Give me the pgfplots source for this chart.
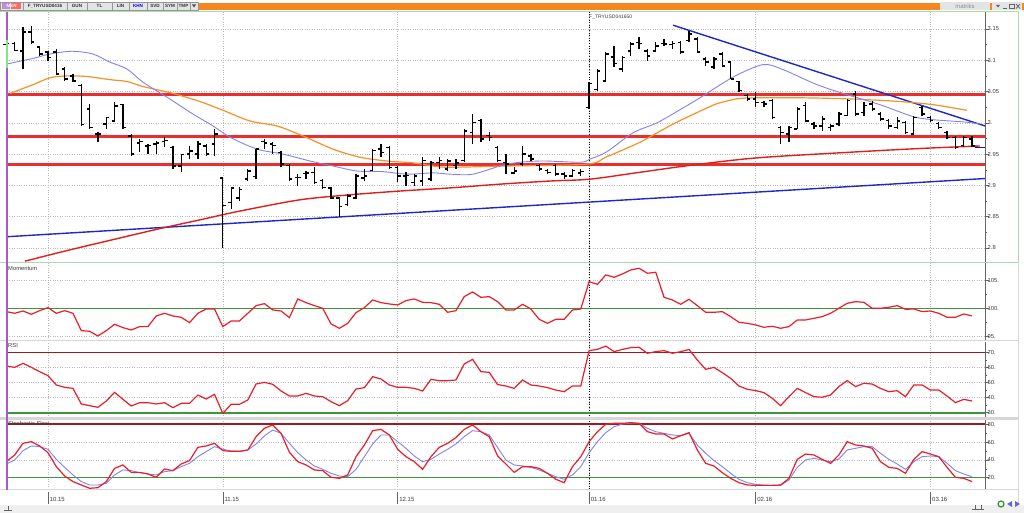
\documentclass[border=0pt]{standalone}
\usepackage{pgfplots}
\pgfplotsset{compat=1.18}
\usepackage{pgfplotstable}
\usepackage{fontspec}
\setmainfont{Liberation Sans}

\definecolor{topor}{RGB}{246,134,31}
\definecolor{tbgray}{RGB}{228,228,228}
\definecolor{tbline}{RGB}{150,150,150}
\definecolor{maone}{RGB}{130,130,240}
\definecolor{matwo}{RGB}{245,145,40}
\definecolor{mathree}{RGB}{225,30,30}
\definecolor{levelred}{RGB}{235,45,45}
\definecolor{trblue}{RGB}{30,40,200}
\definecolor{indred}{RGB}{235,30,40}
\definecolor{stblue}{RGB}{130,130,235}
\definecolor{lgreen}{RGB}{60,150,60}
\definecolor{dred}{RGB}{160,25,30}
\definecolor{gridgray}{RGB}{185,185,185}
\definecolor{axgray}{RGB}{100,100,100}
\definecolor{labgray}{RGB}{60,60,60}
\definecolor{purp}{RGB}{170,90,200}
\definecolor{palegreen}{RGB}{170,220,170}
\definecolor{sepgray}{RGB}{215,215,215}

\newcommand\tickfont{\fontsize{5.8}{6.5}\selectfont}
\newcommand\smallfont{\fontsize{5.8}{6.5}\selectfont}

\pgfdeclareplotmark{ohlcopen}{\pgfpathmoveto{\pgfqpoint{-3pt}{0pt}}\pgfpathlineto{\pgfqpoint{0pt}{0pt}}\pgfusepathqstroke}
\pgfdeclareplotmark{ohlcclose}{\pgfpathmoveto{\pgfqpoint{0pt}{0pt}}\pgfpathlineto{\pgfqpoint{3pt}{0pt}}\pgfusepathqstroke}

\pgfplotstableread{
i o h l c
-5 3.125 3.130 3.120 3.127
-4 3.127 3.129 3.115 3.116
-3 3.115 3.153 3.086 3.145
-2 3.145 3.155 3.126 3.129
-1 3.121 3.123 3.107 3.110
0 3.113 3.115 3.099 3.104
1 3.113 3.118 3.078 3.078
2 3.086 3.089 3.067 3.070
3 3.075 3.078 3.065 3.067
4 3.060 3.062 2.995 2.997
5 3.022 3.030 2.990 2.992
6 2.982 2.985 2.969 2.982
7 2.998 3.009 2.990 3.008
8 3.003 3.033 3.001 3.027
9 3.029 3.030 2.990 2.993
10 2.979 2.982 2.947 2.950
11 2.968 2.974 2.954 2.970
12 2.963 2.966 2.950 2.964
13 2.966 2.971 2.950 2.968
14 2.970 2.977 2.961 2.972
15 2.961 2.963 2.926 2.931
16 2.931 2.950 2.921 2.949
17 2.950 2.963 2.942 2.955
18 2.950 2.971 2.942 2.966
19 2.963 2.966 2.947 2.950
20 2.966 2.990 2.947 2.982
21 2.912 2.913 2.800 2.868
22 2.873 2.897 2.862 2.896
23 2.880 2.897 2.875 2.893
24 2.910 2.926 2.907 2.923
25 2.914 2.958 2.910 2.958
26 2.970 2.974 2.958 2.968
27 2.966 2.969 2.950 2.964
28 2.953 2.955 2.929 2.934
29 2.932 2.934 2.907 2.910
30 2.913 2.918 2.899 2.913
31 2.919 2.923 2.910 2.920
32 2.921 2.929 2.902 2.905
33 2.908 2.910 2.894 2.897
34 2.896 2.897 2.878 2.880
35 2.880 2.881 2.849 2.866
36 2.870 2.886 2.867 2.883
37 2.880 2.918 2.878 2.915
38 2.912 2.926 2.907 2.915
39 2.924 2.958 2.923 2.956
40 2.958 2.966 2.945 2.953
41 2.961 2.963 2.926 2.929
42 2.929 2.931 2.905 2.915
43 2.915 2.921 2.899 2.916
44 2.905 2.918 2.899 2.915
45 2.907 2.945 2.899 2.940
46 2.910 2.939 2.907 2.937
47 2.937 2.945 2.926 2.940
48 2.926 2.942 2.923 2.939
49 2.932 2.942 2.926 2.936
50 2.940 2.990 2.938 2.987
51 2.985 3.014 2.966 3.000
52 3.004 3.006 2.969 2.974
53 2.980 2.985 2.971 2.977
54 2.961 2.963 2.938 2.940
55 2.937 2.950 2.918 2.934
56 2.920 2.929 2.918 2.923
57 2.934 2.963 2.931 2.950
58 2.947 2.950 2.939 2.942
59 2.932 2.934 2.923 2.926
60 2.924 2.926 2.918 2.921
61 2.932 2.934 2.915 2.918
62 2.918 2.921 2.910 2.915
63 2.915 2.926 2.913 2.924
64 2.920 2.926 2.915 2.922
65 3.025 3.065 3.022 3.063
66 3.053 3.086 3.051 3.083
67 3.067 3.113 3.065 3.110
68 3.105 3.123 3.089 3.095
69 3.086 3.107 3.081 3.104
70 3.115 3.129 3.107 3.126
71 3.128 3.137 3.118 3.127
72 3.115 3.118 3.099 3.107
73 3.115 3.129 3.113 3.123
74 3.127 3.134 3.123 3.126
75 3.125 3.131 3.118 3.127
76 3.128 3.131 3.110 3.113
77 3.131 3.147 3.129 3.142
78 3.134 3.137 3.113 3.113
79 3.102 3.105 3.091 3.097
80 3.089 3.105 3.086 3.102
81 3.110 3.113 3.089 3.091
82 3.097 3.097 3.070 3.070
83 3.066 3.067 3.049 3.052
84 3.044 3.046 3.035 3.038
85 3.038 3.049 3.025 3.033
86 3.033 3.035 3.025 3.030
87 3.036 3.038 3.006 3.008
88 2.993 2.995 2.966 2.985
89 2.982 2.995 2.969 2.993
90 2.990 3.025 2.990 3.022
91 3.028 3.033 3.001 3.003
92 2.998 3.001 2.990 2.995
93 2.995 3.011 2.987 3.006
94 2.992 2.998 2.987 2.995
95 2.998 3.017 2.995 3.014
96 3.012 3.038 3.011 3.036
97 3.046 3.051 3.011 3.014
98 3.016 3.033 3.011 3.028
99 3.030 3.035 3.019 3.022
100 3.014 3.017 3.003 3.006
101 3.004 3.006 2.990 2.995
102 2.992 3.009 2.990 3.003
103 3.001 3.003 2.982 2.984
104 2.982 3.011 2.980 3.009
105 3.025 3.027 3.011 3.014
106 3.009 3.011 3.001 3.004
107 2.999 3.001 2.990 2.993
108 2.985 2.987 2.974 2.977
109 2.977 2.979 2.958 2.961
110 2.964 2.979 2.961 2.976
111 2.974 2.979 2.961 2.963
}\ohlc

\pgfplotstableread{
i mom rsi k d
-5 99.40 61.13 38.0 35.4
-4 99.10 60.24 45.5 39.9
-3 99.52 62.91 58.6 50.4
-2 98.92 60.24 60.5 55.6
-1 99.58 57.36 55.6 54.9
0 100.12 54.69 48.1 51.9
1 99.10 48.47 32.4 40.6
2 99.58 46.91 21.9 31.6
3 99.10 46.24 15.6 23.1
4 95.98 35.80 11.8 15.6
5 95.86 34.69 8.1 11.8
6 95.02 33.58 8.8 11.8
7 95.98 37.80 15.6 13.7
8 97.12 43.58 30.5 23.1
9 96.52 38.91 34.3 28.7
10 96.10 34.47 26.0 27.9
11 96.70 36.69 26.0 25.7
12 96.70 36.69 24.2 24.2
13 98.62 35.80 20.4 23.1
14 99.10 36.69 29.8 26.8
15 98.62 33.36 27.9 27.9
16 98.38 36.24 35.4 32.4
17 97.42 36.24 39.2 36.2
18 99.10 41.80 54.1 43.6
19 99.88 39.13 55.6 49.3
20 99.88 42.24 58.6 54.9
21 96.70 29.58 50.4 51.9
22 97.72 35.58 49.6 50.0
23 97.72 35.58 49.6 49.6
24 99.10 38.47 51.1 51.1
25 100.48 49.13 66.1 57.9
26 100.84 50.24 75.5 66.9
27 99.70 48.91 79.2 73.6
28 99.52 44.47 69.8 69.8
29 98.32 41.13 48.5 58.6
30 101.68 41.13 38.0 48.1
31 101.02 42.91 34.3 39.9
32 100.48 41.13 28.7 33.1
33 100.00 40.69 27.9 29.4
34 97.18 37.36 20.4 24.9
35 96.40 34.69 19.3 21.9
36 97.30 38.02 23.1 21.1
37 99.22 45.80 43.6 29.4
38 100.12 46.69 56.7 43.6
39 101.50 54.02 72.8 57.9
40 101.02 52.47 74.3 68.0
41 100.78 48.47 68.0 68.0
42 100.60 46.91 51.9 60.5
43 101.38 46.91 43.6 53.0
44 101.68 46.24 38.0 44.4
45 101.08 44.47 29.4 38.0
46 101.02 52.24 43.6 40.6
47 100.72 51.36 54.1 46.6
48 99.28 51.36 58.6 51.9
49 99.58 51.80 65.0 57.9
50 102.10 62.47 74.3 66.1
51 102.94 65.58 79.2 72.8
52 101.98 57.36 71.7 71.7
53 102.10 56.91 66.1 68.0
54 101.20 48.80 44.5 54.0
55 99.70 47.80 35.4 39.9
56 99.70 46.20 26.0 34.3
57 100.72 51.80 32.4 33.2
58 99.88 48.50 32.4 31.6
59 98.02 47.80 30.5 28.7
60 97.30 46.70 24.9 24.9
61 98.02 45.10 18.2 21.1
62 98.02 44.00 14.4 18.2
63 99.70 47.80 32.4 23.1
64 99.88 47.80 43.6 32.4
65 104.80 71.40 60.5 48.1
66 104.32 72.20 71.7 60.5
67 106.01 74.40 80.0 70.6
68 105.59 70.70 81.1 77.3
69 106.19 72.20 81.1 80.3
70 106.91 73.40 81.8 81.1
71 107.21 73.60 81.1 81.1
72 106.31 69.60 71.7 75.5
73 106.49 70.70 69.1 71.7
74 101.98 71.40 69.1 69.8
75 101.50 69.60 63.5 68.0
76 100.72 70.70 67.2 67.2
77 101.62 72.20 70.6 69.8
78 100.48 65.10 51.1 56.7
79 99.28 58.90 36.1 47.4
80 99.28 60.20 33.1 39.2
81 99.40 56.70 25.6 32.4
82 98.50 52.90 19.3 24.9
83 97.48 47.80 14.4 18.2
84 97.30 45.60 11.8 14.4
85 97.00 44.70 11.4 12.6
86 96.58 43.40 11.4 11.8
87 96.76 39.60 11.4 11.4
88 96.40 34.70 11.8 11.4
89 96.70 40.70 19.3 17.4
90 97.90 46.20 40.6 31.6
91 97.90 43.40 46.6 39.9
92 98.20 40.70 45.5 41.8
93 98.50 40.30 40.6 39.9
94 99.10 41.80 36.1 38.0
95 100.00 47.40 45.5 41.0
96 100.90 51.40 60.5 51.1
97 101.20 47.40 56.7 53.0
98 101.08 49.60 55.6 54.9
99 100.00 49.10 53.0 54.9
100 100.00 46.20 38.0 47.4
101 100.18 44.00 31.6 40.6
102 100.48 44.70 30.5 35.4
103 99.82 40.70 24.9 29.4
104 99.88 48.50 40.6 38.0
105 99.40 48.50 49.3 43.6
106 99.52 45.10 46.6 44.4
107 99.10 45.10 43.6 43.6
108 98.38 41.10 31.6 36.1
109 98.38 36.70 20.4 27.9
110 98.98 38.90 19.3 24.2
111 98.62 37.80 15.6 21.1
}\ind

\pgfplotstableread{
x lvla lvlb lvlc
-4.925 3.04497 2.97785 2.93311
112.553 3.04497 2.97785 2.93311
}\levels

\pgfplotsset{
  panel/.style={
    scale only axis, width=978pt,
    xmin=-4.925, xmax=112.553,
    axis line style={draw=none},
    tick align=outside,
    ytick pos=right, xtick pos=bottom,
    x tick style={draw=none},
    xtick={0,21,42,65,85,106}, xticklabels={},
    extra x ticks={65},
    extra x tick style={grid style={black, dotted, line width=0.6pt}, xticklabels={}},
    y tick style={draw=axgray, line width=0.5pt},
    major tick length=4pt, minor tick length=2pt,
    minor y tick num=1,
    yticklabel style={font=\tickfont, text=labgray, anchor=west, inner sep=0.5pt, xshift=-2pt},
    xmajorgrids, ymajorgrids,
    grid style={gridgray, dotted, line width=0.6pt},
    clip=false,
    after end axis/.code={\draw[axgray, line width=0.8pt] (rel axis cs:1,0) -- (rel axis cs:1,1);},
  },
}

\begin{document}
\begin{tikzpicture}[x=1pt,y=1pt]
\useasboundingbox (0,0) rectangle (1024,-513);
\fill[white] (0,0) rectangle (1024,-513);

% ---------- main price panel ----------
\begin{axis}[panel, at={(7pt,-262pt)}, anchor=south west, height=250pt,
  ymin=2.7776, ymax=3.1771,
  ytick={2.8,2.85,2.9,2.95,3.0,3.05,3.1,3.15},
  yticklabels={2.8,2.85,2.9,2.95,3.,3.05,3.1,3.15}]
% horizontal levels
\addplot[draw=levelred, line width=2.4pt, mark=none] table[x=x, y=lvla] {\levels};
\addplot[draw=levelred, line width=2.4pt, mark=none] table[x=x, y=lvlb] {\levels};
\addplot[draw=levelred, line width=2.4pt, mark=none] table[x=x, y=lvlc] {\levels};
% trend lines
\addplot[draw=trblue, line width=1.4pt] coordinates {(-4.925,2.818) (112.553,2.911)};
\addplot[draw=trblue, line width=1.4pt] coordinates {(75.08,3.156) (112.553,2.995)};
% long moving average
\addplot[draw=mathree, line width=1.4pt, smooth] coordinates {
(-2.76,2.779) (2.64,2.797) (8.65,2.816) (13.45,2.831) (18.26,2.845) (23.06,2.859)
(30.27,2.877) (36.28,2.885) (42.28,2.891) (48.29,2.896) (54.29,2.902) (60.30,2.907)
(65.11,2.910) (71.11,2.921) (77.12,2.932) (85.17,2.944) (96.34,2.953) (104.74,2.959) (111.95,2.963)};
% orange moving average
\addplot[draw=matwo, line width=1.2pt, smooth] coordinates {
(-4.56,3.047) (-1.80,3.061) (0.24,3.072) (2.28,3.075) (4.68,3.074) (7.45,3.069) (9.49,3.066)
(11.41,3.058) (15.02,3.047) (18.26,3.034) (20.66,3.022) (24.26,3.003) (27.51,2.995) (30.63,2.979)
(34.23,2.958) (37.48,2.945) (40.72,2.939) (43.84,2.936) (46.25,2.931) (48.29,2.929) (55.14,2.931)
(64.74,2.934) (67.15,2.946) (71.11,2.969) (75.08,2.998) (79.52,3.026) (80.72,3.032) (83.12,3.039)
(86.37,3.040) (90.33,3.040) (94.29,3.039) (98.38,3.037) (102.34,3.034) (106.31,3.029) (110.39,3.020)};
% light blue moving average
\addplot[draw=maone, line width=0.9pt, smooth] coordinates {
(-4.92,3.094) (-1.80,3.103) (0.24,3.110) (2.28,3.114) (3.48,3.114) (5.41,3.110) (7.45,3.097)
(9.49,3.086) (11.41,3.065) (14.29,3.041) (17.42,3.014) (19.82,2.995) (21.86,2.977) (25.11,2.958)
(28.23,2.950) (31.47,2.939) (34.23,2.931) (37.12,2.923) (40.24,2.922) (43.12,2.918) (46.25,2.920)
(48.29,2.918) (51.05,2.918) (55.14,2.934) (59.10,2.939) (63.90,2.937) (65.11,2.942) (67.15,2.954)
(70.27,2.984) (73.15,3.000) (75.92,3.021) (78.32,3.040) (82.28,3.073) (85.89,3.093) (88.29,3.085)
(92.37,3.061) (95.98,3.045) (99.94,3.029) (103.90,3.010) (106.31,3.005) (110.39,3.001) (111.95,2.998)};
% last price marker
\addplot[draw=trblue!70!black, line width=1pt] coordinates {(111.3,2.960) (112.553,2.960)};
% OHLC bars
\addplot[draw=none, mark=none, forget plot,
  error bars/.cd, y dir=plus, y explicit, error mark=none,
  error bar style={draw=black, line width=1.3pt, solid}]
  table[x=i, y=l, y error plus expr=\thisrow{h}-\thisrow{l}] {\ohlc};
\addplot[only marks, mark=ohlcopen, mark options={draw=black, line width=1.3pt}] table[x=i, y=o] {\ohlc};
\addplot[only marks, mark=ohlcclose, mark options={draw=black, line width=1.3pt}] table[x=i, y=c] {\ohlc};
\end{axis}

% ---------- momentum ----------
\begin{axis}[panel, at={(7pt,-340pt)}, anchor=south west, height=77pt,
  ymin=94.29, ymax=108.16,
  ytick={95,100,105}, yticklabels={95.,100.,105.}]
\addplot[draw=lgreen, line width=1.6pt] coordinates {(-4.925,100) (112.553,100)};
\addplot[draw=indred, line width=1.2pt] table[x=i, y=mom] {\ind};
\end{axis}

% ---------- RSI ----------
\begin{axis}[panel, at={(7pt,-418pt)}, anchor=south west, height=76pt,
  ymin=26.47, ymax=77.13,
  ytick={30,40,50,60,70}, yticklabels={30.,40.,50.,60.,70.}]
\addplot[draw=dred, line width=1.6pt] coordinates {(-4.925,70) (112.553,70)};
\addplot[draw=lgreen, line width=1.8pt] coordinates {(-4.925,30) (112.553,30)};
\addplot[draw=indred, line width=1.2pt] table[x=i, y=rsi] {\ind};
\end{axis}

% ---------- Stochastic ----------
\begin{axis}[panel, at={(7pt,-489pt)}, anchor=south west, height=69pt,
  ymin=7.3, ymax=84.8,
  ytick={20,40,60,80}, yticklabels={20.,40.,60.,80.}]
\addplot[draw=dred, line width=1.6pt] coordinates {(-4.925,80) (112.553,80)};
\addplot[draw=lgreen, line width=1.6pt] coordinates {(-4.925,20) (112.553,20)};
\addplot[draw=stblue, line width=0.9pt] table[x=i, y=d] {\ind};
\addplot[draw=indred, line width=1.2pt] table[x=i, y=k] {\ind};
\end{axis}

% ---------- frame and separators ----------
\draw[palegreen, line width=0.8pt] (0,-11.5) -- (1018,-11.5);
\draw[palegreen, line width=0.8pt] (0,-262) -- (1018,-262);
\draw[palegreen, line width=0.8pt] (1018,-11.5) -- (1018,-262);
\draw[sepgray, line width=0.8pt] (1018,-262) -- (1018,-505);
\draw[sepgray, line width=1pt] (0,-340.5) -- (1018,-340.5);
\fill[sepgray] (0,-417) rectangle (1018,-419.5);
\draw[sepgray, line width=0.8pt] (0,-489.5) -- (1018,-489.5);
\draw[purp, line width=1.8pt] (7,-12) -- (7,-490);
\draw[palegreen!80!green, line width=2.2pt] (7,-40) -- (7,-68);

% panel titles
\node[anchor=west, inner sep=0pt, text=labgray, font=\smallfont] at (8,-269) {Momentum};
\node[anchor=west, inner sep=0pt, text=labgray, font=\smallfont] at (8,-346) {RSI};
\node[anchor=west, inner sep=0pt, text=labgray, font=\smallfont] at (8,-423.5) {Stochastic Slow};
\node[anchor=west, inner sep=0pt, text=labgray, font=\fontsize{5}{6}\selectfont] at (589,-17.5) {F\_TRYUSD041650};

% date axis
\foreach \xx/\lab in {48/10.15, 222.8/11.15, 397.7/12.15, 589.1/01.16, 755.6/02.16, 930.5/03.16}{
  \draw[axgray, line width=0.6pt] (\xx,-492) -- (\xx,-504);
  \node[anchor=west, inner sep=0pt, text=labgray, font=\fontsize{6}{7}\selectfont] at (\xx+1.5,-499) {\lab};
}

% bottom strip
\fill[tbgray!60] (0,-505) rectangle (1024,-513);
\draw[axgray, line width=0.5pt] (4,-510) -- (12,-510) (8,-510) -- (8,-506);
\draw[axgray, line width=0.5pt] (972,-509) -- (984,-509) (975,-509) -- (975,-505) (981,-509) -- (981,-505);
\draw[lgreen, line width=1.3pt] (1001,-504) circle (3);
\fill[trblue!70] (1007,-504) -- (1012,-501) -- (1012,-507) -- cycle;
\fill[trblue!70] (1020,-504) -- (1015,-501) -- (1015,-507) -- cycle;

% ---------- top bar ----------
\fill[topor] (0,-3) rectangle (1024,-10.3);
\fill[tbgray] (0,-1.8) rectangle (198,-10.5);
\draw[tbline, line width=0.4pt] (0,-1.8) rectangle (198,-10.5);
\foreach \xx in {23,67,87,112,129,147,163,177,190}{\draw[tbline, line width=0.5pt] (\xx,-2.5) -- (\xx,-10);}
\fill[purp!70] (2,-3) rectangle (10,-9.5);
\fill[red!60] (11,-3) rectangle (21,-9.5);
\node[font=\fontsize{4.5}{5}\selectfont, text=white, inner sep=0pt] at (11.5,-6.3) {\textbf{MSN}};
\foreach \xa/\xb/\lab in {23/67/F\_TRYUSD0416, 67/87/GUN, 87/112/TL, 112/129/LIN, 147/163/SVD, 163/177/SYM, 177/190/TMP}{
  \node[font=\bfseries\fontsize{4.6}{5}\selectfont, text=black!80, inner sep=0pt] at ({(\xa+\xb)/2},-6.3) {\lab};
}
\node[font=\bfseries\fontsize{4.6}{5}\selectfont, text=blue, inner sep=0pt] at (138,-6.3) {KHN};
\fill[black!70] (192,-4.5) -- (196,-4.5) -- (194,-7.5) -- cycle;
\fill[tbgray] (940,-1.8) rectangle (990,-10.5);
\node[font=\fontsize{6}{6}\selectfont, text=black!45, inner sep=0pt] at (965,-6.3) {matriks};
\fill[tbgray] (992,-1.8) rectangle (1022,-10.5);
\fill[black!60] (996,-5) -- (1000,-5) -- (998,-7.5) -- cycle;
\draw[black!60, line width=0.7pt] (1003,-8.5) -- (1007,-8.5);
\draw[black!60, line width=0.6pt] (1009,-4) rectangle (1014,-8.5);
\draw[black!60, line width=0.8pt] (1016,-4) -- (1020,-8.5) (1016,-8.5) -- (1020,-4);
\end{tikzpicture}
\end{document}
